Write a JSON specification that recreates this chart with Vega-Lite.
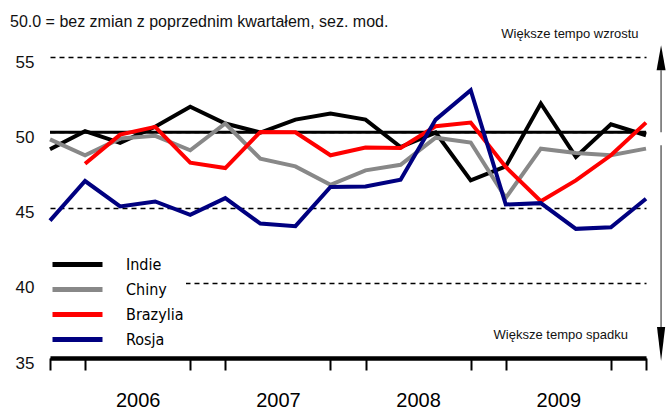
{
  "$schema": "https://vega.github.io/schema/vega-lite/v6.json",
  "width": 596,
  "height": 301,
  "autosize": {"type": "none"},
  "padding": {"left": 50, "top": 57, "right": 25, "bottom": 52},
  "background": "white",
  "config": {"view": {"stroke": null}, "font": "Liberation Sans"},
  "title": {
    "text": "50.0 = bez zmian z poprzednim kwartałem, sez. mod.",
    "anchor": "start",
    "frame": "group",
    "offset": 3,
    "dx": -40,
    "dy": 5,
    "fontSize": 16,
    "fontWeight": "normal",
    "font": "Liberation Sans",
    "color": "#111"
  },
  "datasets": {
    "bric": [
      {"t": 0, "kraj": "Indie", "v": 48.87}, {"t": 1, "kraj": "Indie", "v": 50.07}, {"t": 2, "kraj": "Indie", "v": 49.29}, {"t": 3, "kraj": "Indie", "v": 50.36}, {"t": 4, "kraj": "Indie", "v": 51.69}, {"t": 5, "kraj": "Indie", "v": 50.58}, {"t": 6, "kraj": "Indie", "v": 49.98}, {"t": 7, "kraj": "Indie", "v": 50.84}, {"t": 8, "kraj": "Indie", "v": 51.24}, {"t": 9, "kraj": "Indie", "v": 50.84}, {"t": 10, "kraj": "Indie", "v": 49.02}, {"t": 11, "kraj": "Indie", "v": 49.98}, {"t": 12, "kraj": "Indie", "v": 46.8}, {"t": 13, "kraj": "Indie", "v": 47.73}, {"t": 14, "kraj": "Indie", "v": 51.91}, {"t": 15, "kraj": "Indie", "v": 48.36}, {"t": 16, "kraj": "Indie", "v": 50.53}, {"t": 17, "kraj": "Indie", "v": 49.8},
      {"t": 0, "kraj": "Chiny", "v": 49.53}, {"t": 1, "kraj": "Chiny", "v": 48.47}, {"t": 2, "kraj": "Chiny", "v": 49.58}, {"t": 3, "kraj": "Chiny", "v": 49.76}, {"t": 4, "kraj": "Chiny", "v": 48.8}, {"t": 5, "kraj": "Chiny", "v": 50.58}, {"t": 6, "kraj": "Chiny", "v": 48.24}, {"t": 7, "kraj": "Chiny", "v": 47.73}, {"t": 8, "kraj": "Chiny", "v": 46.51}, {"t": 9, "kraj": "Chiny", "v": 47.47}, {"t": 10, "kraj": "Chiny", "v": 47.84}, {"t": 11, "kraj": "Chiny", "v": 49.64}, {"t": 12, "kraj": "Chiny", "v": 49.32}, {"t": 13, "kraj": "Chiny", "v": 45.64}, {"t": 14, "kraj": "Chiny", "v": 48.91}, {"t": 15, "kraj": "Chiny", "v": 48.62}, {"t": 16, "kraj": "Chiny", "v": 48.47}, {"t": 17, "kraj": "Chiny", "v": 48.91},
      {"t": 1, "kraj": "Brazylia", "v": 47.91}, {"t": 2, "kraj": "Brazylia", "v": 49.84}, {"t": 3, "kraj": "Brazylia", "v": 50.36}, {"t": 4, "kraj": "Brazylia", "v": 47.98}, {"t": 5, "kraj": "Brazylia", "v": 47.62}, {"t": 6, "kraj": "Brazylia", "v": 50.02}, {"t": 7, "kraj": "Brazylia", "v": 50.0}, {"t": 8, "kraj": "Brazylia", "v": 48.47}, {"t": 9, "kraj": "Brazylia", "v": 48.98}, {"t": 10, "kraj": "Brazylia", "v": 48.96}, {"t": 11, "kraj": "Brazylia", "v": 50.4}, {"t": 12, "kraj": "Brazylia", "v": 50.64}, {"t": 13, "kraj": "Brazylia", "v": 47.69}, {"t": 14, "kraj": "Brazylia", "v": 45.42}, {"t": 15, "kraj": "Brazylia", "v": 46.8}, {"t": 16, "kraj": "Brazylia", "v": 48.47}, {"t": 17, "kraj": "Brazylia", "v": 50.64},
      {"t": 0, "kraj": "Rosja", "v": 44.13}, {"t": 1, "kraj": "Rosja", "v": 46.76}, {"t": 2, "kraj": "Rosja", "v": 45.07}, {"t": 3, "kraj": "Rosja", "v": 45.4}, {"t": 4, "kraj": "Rosja", "v": 44.51}, {"t": 5, "kraj": "Rosja", "v": 45.62}, {"t": 6, "kraj": "Rosja", "v": 43.93}, {"t": 7, "kraj": "Rosja", "v": 43.76}, {"t": 8, "kraj": "Rosja", "v": 46.36}, {"t": 9, "kraj": "Rosja", "v": 46.4}, {"t": 10, "kraj": "Rosja", "v": 46.84}, {"t": 11, "kraj": "Rosja", "v": 50.84}, {"t": 12, "kraj": "Rosja", "v": 52.8}, {"t": 13, "kraj": "Rosja", "v": 45.2}, {"t": 14, "kraj": "Rosja", "v": 45.29}, {"t": 15, "kraj": "Rosja", "v": 43.58}, {"t": 16, "kraj": "Rosja", "v": 43.69}, {"t": 17, "kraj": "Rosja", "v": 45.58}
    ]
  },
  "layer": [
    {
      "data": {"values": [{}]},
      "mark": {"type": "rule", "stroke": "black", "strokeWidth": 3},
      "encoding": {"y": {"datum": 50, "type": "quantitative"}}
    },
    {
      "data": {"name": "bric"},
      "mark": {"type": "line", "strokeWidth": 4, "strokeJoin": "miter", "strokeCap": "butt"},
      "encoding": {
        "x": {
          "field": "t",
          "type": "quantitative",
          "scale": {"domain": [0, 17], "nice": false, "zero": false},
          "axis": {
            "title": null,
            "values": [0, 0.5, 1, 2, 2.5, 3, 4, 4.5, 5, 6, 6.5, 7, 8, 8.5, 9, 10, 10.5, 11, 12, 12.5, 13, 14, 14.5, 15, 16, 16.5, 17],
            "grid": false,
            "domain": true,
            "domainColor": "black",
            "domainWidth": 4.5,
            "ticks": true,
            "tickColor": "black",
            "tickWidth": 2,
            "tickSize": {"condition": {"test": "datum.value % 1 == 0", "value": 12}, "value": 30},
            "tickOpacity": {"condition": {"test": "datum.value % 4 == 2.5", "value": 0}, "value": 1},
            "labelExpr": "datum.value == 2.5 ? '2006' : datum.value == 6.5 ? '2007' : datum.value == 10.5 ? '2008' : datum.value == 14.5 ? '2009' : ''",
            "labelFontSize": 20,
            "labelFont": "Liberation Sans",
            "labelColor": "black",
            "labelBaseline": "top",
            "labelPadding": 2,
            "labelFlush": false,
            "labelOverlap": false,
            "zindex": 1
          }
        },
        "y": {
          "field": "v",
          "type": "quantitative",
          "scale": {"domain": [35, 55], "nice": false, "zero": false},
          "axis": {
            "title": null,
            "values": [35, 40, 45, 50, 55],
            "domain": false,
            "ticks": false,
            "grid": true,
            "gridColor": "black",
            "gridDash": [5, 4],
            "gridWidth": 1.5,
            "labelFontSize": 17,
            "labelFont": "Liberation Sans",
            "labelColor": "#111",
            "labelPadding": 16,
            "labelOffset": 5
          }
        },
        "color": {
          "field": "kraj",
          "type": "nominal",
          "scale": {"domain": ["Indie", "Chiny", "Brazylia", "Rosja"], "range": ["#000000", "#888888", "#ff0000", "#000080"]},
          "legend": {
            "title": null,
            "orient": "none",
            "legendX": -2,
            "legendY": 193,
            "symbolType": "stroke",
            "symbolSize": 2500,
            "symbolStrokeWidth": 5,
            "clipHeight": 25,
            "rowPadding": 0,
            "labelFontSize": 16,
            "labelFont": "DejaVu Sans Condensed",
            "labelColor": "black",
            "labelOffset": 21,
            "fillColor": "white",
            "padding": 2
          }
        }
      }
    },
    {
      "data": {"values": [{}]},
      "mark": {"type": "rule", "stroke": "#666", "strokeWidth": 1.5},
      "encoding": {"x": {"datum": 17.43, "type": "quantitative"}, "y": {"datum": 54.12, "type": "quantitative"}, "y2": {"datum": 50.0}}
    },
    {
      "data": {"values": [{}]},
      "mark": {"type": "rule", "stroke": "#666", "strokeWidth": 1.5},
      "encoding": {"x": {"datum": 17.43, "type": "quantitative"}, "y": {"datum": 49.14, "type": "quantitative"}, "y2": {"datum": 37.04}}
    },
    {
      "data": {"values": [{}]},
      "mark": {"type": "point", "shape": "M0,-1L0.36,1L-0.36,1Z", "size": 625, "filled": true, "color": "black", "opacity": 1},
      "encoding": {"x": {"datum": 17.43, "type": "quantitative"}, "y": {"datum": 54.95, "type": "quantitative"}}
    },
    {
      "data": {"values": [{}]},
      "mark": {"type": "point", "shape": "M0,1L0.24,-1L-0.24,-1Z", "size": 1156, "filled": true, "color": "black", "opacity": 1},
      "encoding": {"x": {"datum": 17.43, "type": "quantitative"}, "y": {"datum": 35.93, "type": "quantitative"}}
    },
    {
      "data": {"values": [{}]},
      "mark": {"type": "text", "fontSize": 13, "font": "Liberation Sans", "color": "#111", "align": "center", "baseline": "middle"},
      "encoding": {"x": {"datum": 14.83, "type": "quantitative"}, "y": {"datum": 56.5, "type": "quantitative"}, "text": {"value": "Większe tempo wzrostu"}}
    },
    {
      "data": {"values": [{}]},
      "mark": {"type": "text", "fontSize": 13, "font": "Liberation Sans", "color": "#111", "align": "center", "baseline": "middle"},
      "encoding": {"x": {"datum": 14.57, "type": "quantitative"}, "y": {"datum": 36.5, "type": "quantitative"}, "text": {"value": "Większe tempo spadku"}}
    }
  ]
}
